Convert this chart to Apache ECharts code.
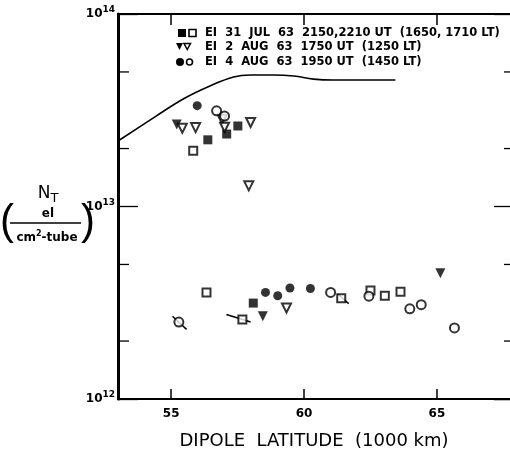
<!DOCTYPE html>
<html>
<head>
<meta charset="utf-8">
<script src="https://cdn.jsdelivr.net/npm/echarts@6/dist/echarts.min.js"></script>
<style>
  html, body { margin: 0; padding: 0; background: #fff; }
  #chart { width: 510px; height: 455px; }
</style>
</head>
<body>
<div id="chart"></div>
<script>
// Total electron content per tube vs dipole latitude (Explorer I passes)
const latMin = 53, latMax = 67.75;
const xTickValues = [55, 60, 65];
const minorTickValues = [2e12, 5e12, 2e13, 5e13];

// Model curve
const curveLat = [53.0, 54.42, 55.47, 56.48, 57.35, 57.99, 58.85, 59.61, 60.36, 61.11, 62.39, 63.44];
const curveNT  = [2.19e13, 2.94e13, 3.63e13, 4.24e13, 4.71e13, 4.82e13, 4.82e13, 4.76e13, 4.59e13, 4.54e13, 4.54e13, 4.54e13];

// EI 31 JUL 63 (filled / open squares)
const julFilledLat = [56.38, 57.09, 57.51, 58.09];
const julFilledNT  = [2.22e13, 2.38e13, 2.62e13, 3.15e12];
const julOpenLat = [55.83, 56.33, 57.68, 61.40, 62.50, 63.04, 63.63];
const julOpenNT  = [1.95e13, 3.58e12, 2.59e12, 3.34e12, 3.66e12, 3.44e12, 3.61e12];

// EI 2 AUG 63 (filled / open triangles)
const aug2FilledLat = [55.21, 58.45, 65.13];
const aug2FilledNT  = [2.67e13, 2.69e12, 4.50e12];
const aug2OpenLat = [55.42, 55.92, 56.92, 57.01, 57.99, 57.92, 59.34];
const aug2OpenNT  = [2.55e13, 2.57e13, 2.84e13, 2.58e13, 2.73e13, 1.28e13, 2.97e12];

// EI 4 AUG 63 (filled / open circles)
const aug4FilledLat = [55.98, 58.55, 59.01, 59.47, 60.24];
const aug4FilledNT  = [3.34e13, 3.58e12, 3.44e12, 3.77e12, 3.75e12];
const aug4OpenLat = [56.71, 57.01, 55.29, 61.00, 62.44, 63.98, 64.41, 65.66];
const aug4OpenNT  = [3.14e13, 2.95e13, 2.51e12, 3.58e12, 3.42e12, 2.94e12, 3.09e12, 2.34e12];

// Short trace segments through some points: [lat1, nt1, lat2, nt2]
const traceSegments = [
  [55.05, 2.69e12, 55.58, 2.30e12],
  [57.08, 2.75e12, 57.99, 2.51e12],
  [61.27, 3.51e12, 61.68, 3.13e12]
];

const legendRows = [
  'EI  31  JUL  63  2150,2210 UT  (1650, 1710 LT)',
  'EI  2  AUG  63  1750 UT  (1250 LT)',
  'EI  4  AUG  63  1950 UT  (1450 LT)'
];

const FONT = 'DejaVu Sans';
const zip = (a, b) => a.map((v, i) => [v, b[i]]);

function pointSeries(lat, nt, symbol, filled, size, rotate) {
  return {
    type: 'scatter',
    data: zip(lat, nt),
    symbol: symbol,
    symbolSize: size,
    symbolRotate: rotate || 0,
    itemStyle: filled
      ? { color: '#000', borderWidth: 0 }
      : { color: '#fff', borderColor: '#000', borderWidth: 2 },
    z: 5,
    silent: true
  };
}

const series = [
  {
    type: 'line',
    data: zip(curveLat, curveNT),
    smooth: 0.4,
    showSymbol: false,
    lineStyle: { color: '#000', width: 1.6 },
    z: 3,
    silent: true
  },
  ...traceSegments.map(s => ({
    type: 'line',
    data: [[s[0], s[1]], [s[2], s[3]]],
    showSymbol: false,
    lineStyle: { color: '#000', width: 1.5 },
    z: 4,
    silent: true
  })),
  pointSeries(julFilledLat, julFilledNT, 'rect', true, 9),
  pointSeries(julOpenLat, julOpenNT, 'rect', false, 8),
  pointSeries(aug2FilledLat, aug2FilledNT, 'triangle', true, 10, 180),
  pointSeries(aug2OpenLat, aug2OpenNT, 'triangle', false, 9, 180),
  pointSeries(aug4FilledLat, aug4FilledNT, 'circle', true, 9),
  pointSeries(aug4OpenLat, aug4OpenNT, 'circle', false, 9),
  {
    // minor ticks at 2 and 5 per decade, both sides
    type: 'custom',
    data: minorTickValues.map(v => [latMin, v]),
    clip: false,
    silent: true,
    renderItem: function (params, api) {
      const v = api.value(1);
      const l = api.coord([latMin, v]);
      const r = api.coord([latMax, v]);
      return {
        type: 'group',
        children: [
          { type: 'line', shape: { x1: l[0], y1: l[1], x2: l[0] + 11, y2: l[1] }, style: { stroke: '#000', lineWidth: 1.3 } },
          { type: 'line', shape: { x1: r[0] - 6, y1: r[1], x2: r[0], y2: r[1] }, style: { stroke: '#000', lineWidth: 1.3 } }
        ]
      };
    }
  }
];

// Legend rows drawn as graphics
const legendGraphics = [];
const rowY = [33, 47, 62];
legendRows.forEach((txt, i) => {
  const y = rowY[i];
  if (i === 0) {
    legendGraphics.push({ type: 'rect', shape: { x: 178, y: y - 4, width: 8, height: 8 }, style: { fill: '#000' } });
    legendGraphics.push({ type: 'rect', shape: { x: 189, y: y - 3.5, width: 7, height: 7 }, style: { fill: '#fff', stroke: '#000', lineWidth: 1.6 } });
  } else if (i === 1) {
    legendGraphics.push({ type: 'polygon', shape: { points: [[176, y - 4], [183, y - 4], [179.5, y + 3]] }, style: { fill: '#000' } });
    legendGraphics.push({ type: 'polygon', shape: { points: [[184, y - 3.5], [190.5, y - 3.5], [187.25, y + 2.5]] }, style: { fill: '#fff', stroke: '#000', lineWidth: 1.5 } });
  } else {
    legendGraphics.push({ type: 'circle', shape: { cx: 180, cy: y, r: 4 }, style: { fill: '#000' } });
    legendGraphics.push({ type: 'circle', shape: { cx: 189.5, cy: y, r: 3 }, style: { fill: '#fff', stroke: '#000', lineWidth: 1.6 } });
  }
  legendGraphics.push({
    type: 'text', x: 205, y: y,
    style: { text: txt, font: 'bold 11.5px ' + FONT, fill: '#000', verticalAlign: 'middle', align: 'left' }
  });
});

// Y-axis title: N_T (el / cm²-tube)
const titleGraphics = [
  { type: 'text', x: 48, y: 194, style: {
      text: 'N{sub|T}', fill: '#000', align: 'center', verticalAlign: 'middle',
      font: '17px ' + FONT,
      rich: { sub: { font: '13px ' + FONT, padding: [10, 0, 0, 0] } }
  } },
  { type: 'text', x: 48, y: 214, style: { text: 'el', font: 'bold 12px ' + FONT, fill: '#000', align: 'center', verticalAlign: 'middle' } },
  { type: 'line', shape: { x1: 10, y1: 223, x2: 81, y2: 223 }, style: { stroke: '#000', lineWidth: 1.3 } },
  { type: 'text', x: 47, y: 238, style: {
      text: 'cm{sup|2}-tube', fill: '#000', align: 'center', verticalAlign: 'middle',
      font: 'bold 12px ' + FONT,
      rich: { sup: { font: 'bold 8px ' + FONT, padding: [0, 0, 8, 0] } }
  } },
  { type: 'text', x: 0, y: 222, style: { text: '(', font: '300 42px "Liberation Sans"', fill: '#000', verticalAlign: 'middle', align: 'left' } },
  { type: 'text', x: 81, y: 222, style: { text: ')', font: '300 42px "Liberation Sans"', fill: '#000', verticalAlign: 'middle', align: 'left' } }
];

const chart = echarts.init(document.getElementById('chart'), null, { renderer: 'canvas' });
chart.setOption({
  animation: false,
  backgroundColor: '#fff',
  grid: { left: 118, right: 0, top: 14, bottom: 49, containLabel: false },
  xAxis: [
    {
      type: 'value', position: 'bottom', min: latMin, max: latMax,
      name: 'DIPOLE  LATITUDE  (1000 km)', nameLocation: 'middle', nameGap: 33,
      nameTextStyle: { fontFamily: FONT, fontSize: 18, color: '#000' },
      axisLine: { show: true, lineStyle: { color: '#000', width: 2 } },
      axisTick: { show: true, inside: true, length: 10, customValues: xTickValues, lineStyle: { color: '#000', width: 1.5 } },
      axisLabel: { show: true, customValues: xTickValues, margin: 9, fontFamily: FONT, fontWeight: 'bold', fontSize: 12, color: '#000' },
      splitLine: { show: false }
    },
    {
      type: 'value', position: 'top', min: latMin, max: latMax,
      axisLine: { show: true, lineStyle: { color: '#000', width: 2 } },
      axisTick: { show: true, inside: true, length: 11, customValues: xTickValues, lineStyle: { color: '#000', width: 1.5 } },
      axisLabel: { show: false },
      splitLine: { show: false }
    }
  ],
  yAxis: [
    {
      type: 'log', logBase: 10, min: 1e12, max: 1e14, position: 'left',
      axisLine: { show: true, lineStyle: { color: '#000', width: 3 } },
      axisTick: { show: true, inside: true, length: 20, lineStyle: { color: '#000', width: 1.3 } },
      axisLabel: {
        show: true, margin: 3, color: '#000',
        formatter: v => '10{sup|' + Math.round(Math.log10(v)) + '}',
        rich: {
          sup: { fontFamily: FONT, fontWeight: 'bold', fontSize: 9, padding: [0, 0, 8, 0], color: '#000' }
        },
        fontFamily: FONT, fontWeight: 'bold', fontSize: 12
      },
      splitLine: { show: false }
    },
    {
      type: 'log', logBase: 10, min: 1e12, max: 1e14, position: 'right',
      axisLine: { show: false },
      axisTick: { show: true, inside: true, length: 16, lineStyle: { color: '#000', width: 1.3 } },
      axisLabel: { show: false },
      splitLine: { show: false }
    }
  ],
  graphic: [...legendGraphics, ...titleGraphics],
  series: series
});
</script>
</body>
</html>
